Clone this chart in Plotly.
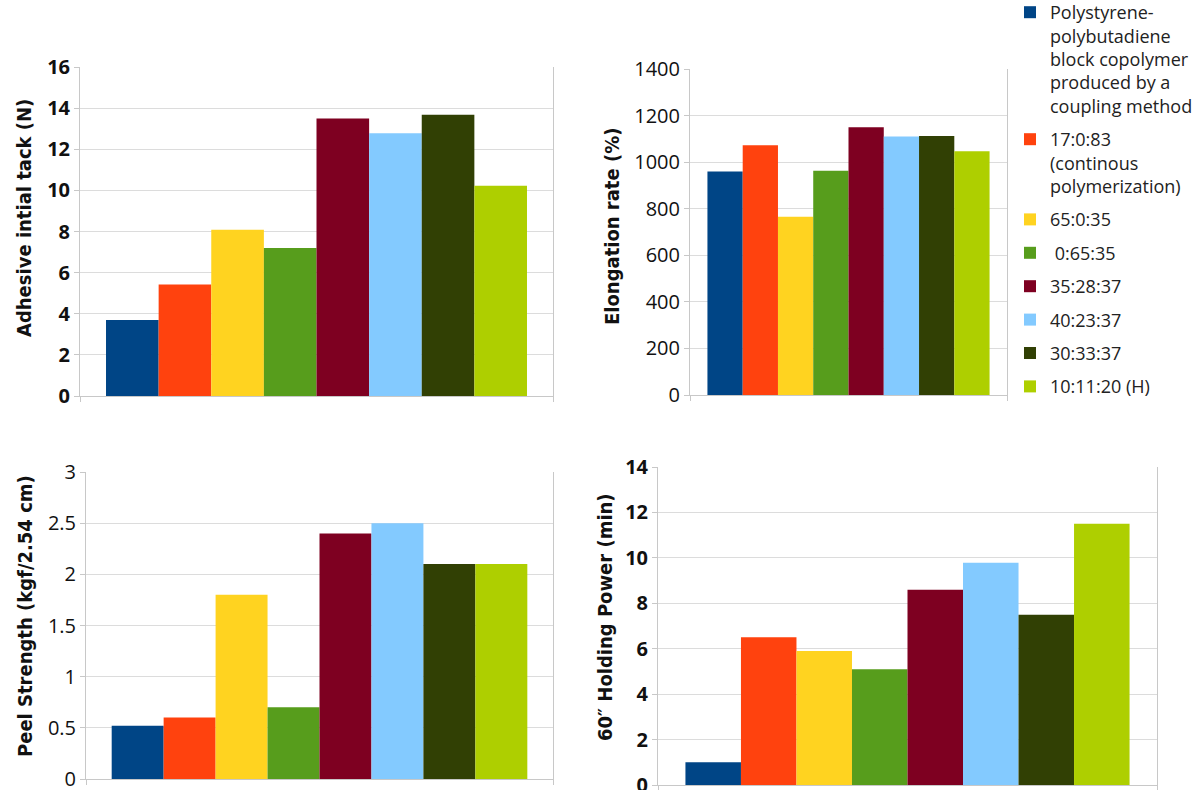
import plotly.graph_objects as go

W, H = 1195, 790

# ---------------- data ----------------
series_names = [
    "Polystyrene-<br>polybutadiene<br>block copolymer<br>produced by a<br>coupling method",
    "17:0:83<br>(continous<br>polymerization)",
    "65:0:35",
    " 0:65:35",
    "35:28:37",
    "40:23:37",
    "30:33:37",
    "10:11:20 (H)",
]
colors = ["#004586", "#ff420e", "#ffd320", "#579d1c",
          "#7e0021", "#83caff", "#314004", "#aecf00"]
category = ["sample"]

tack = [3.7, 5.42, 8.08, 7.2, 13.5, 12.78, 13.68, 10.22]
elongation = [960, 1073, 766, 963, 1150, 1110, 1112, 1047]
peel = [0.52, 0.6, 1.8, 0.7, 2.4, 2.5, 2.1, 2.1]
holding = [1.0, 6.5, 5.9, 5.1, 8.6, 9.78, 7.5, 11.5]

y_titles = ["Adhesive intial tack (N)", "Elongation rate (%)",
            "Peel Strength (kgf/2.54 cm)", "60\u2033 Holding Power (min)"]
y_ranges = [[0, 16], [0, 1400], [0, 3], [0, 14]]
y_dticks = [2, 200, 0.5, 2]

# ---------------- layout helpers ----------------
def fx(px):
    return px / W

def fy(py):
    return (H - py) / H

# pixel boxes: left, right, top, bottom
boxes = [(80, 553, 67, 396), (690, 1007, 69, 395),
         (86, 553, 472, 779), (658, 1157, 467, 785)]
tick_bold = [True, False, False, True]
title_pos = [(24, 218), (612, 227), (25, 616), (605, 617)]

panels = [tack, elongation, peel, holding]

fig = go.Figure()
for p, vals in enumerate(panels):
    xa = "x" if p == 0 else f"x{p+1}"
    ya = "y" if p == 0 else f"y{p+1}"
    for i, name in enumerate(series_names):
        fig.add_trace(go.Bar(
            x=category, y=[vals[i]], name=name,
            marker=dict(color=colors[i], line=dict(width=0)),
            xaxis=xa, yaxis=ya, legendgroup=f"g{i}",
            showlegend=(p == 0), hoverinfo="y",
        ))

layout = dict(
    width=W, height=H,
    margin=dict(l=0, r=0, t=0, b=0, autoexpand=False),
    paper_bgcolor="white", plot_bgcolor="white",
    barmode="group", bargap=0.11, bargroupgap=0,
    font=dict(family="Open Sans", color="#111111"),
    legend=dict(
        x=fx(1010), y=fy(-6), xanchor="left", yanchor="top",
        font=dict(family="Open Sans", size=18, color="#222222"),
        traceorder="grouped", tracegroupgap=7, valign="top",
        bgcolor="rgba(0,0,0,0)", borderwidth=0, maxheight=800,
    ),
    annotations=[],
)

for p in range(4):
    l, r, t, b = boxes[p]
    xk = "xaxis" if p == 0 else f"xaxis{p+1}"
    yk = "yaxis" if p == 0 else f"yaxis{p+1}"
    ya = "y" if p == 0 else f"y{p+1}"
    xa = "x" if p == 0 else f"x{p+1}"
    layout[xk] = dict(
        domain=[fx(l), fx(r)], anchor=ya, type="category",
        showticklabels=False, showgrid=False, zeroline=False,
        showline=True, linecolor="#c8c8c8", linewidth=1,
        ticks="outside", tickson="boundaries", ticklen=5, tickcolor="#c8c8c8",
        fixedrange=True,
    )
    layout[yk] = dict(
        domain=[fy(b), fy(t)], anchor=xa,
        range=y_ranges[p], dtick=y_dticks[p], tick0=0,
        showgrid=True, gridcolor="#dcdcdc", gridwidth=1,
        zeroline=False, showline=True, linecolor="#c8c8c8", linewidth=1,
        mirror=True, ticks="outside", ticklen=5, tickcolor="#c8c8c8",
        ticklabeloverflow="allow",
        tickfont=dict(family="Open Sans", size=20, color="#111111",
                      weight="bold" if tick_bold[p] else "normal"),
        fixedrange=True,
    )
    tx, ty = title_pos[p]
    layout["annotations"].append(dict(
        text=f"<b>{y_titles[p]}</b>", textangle=-90,
        x=fx(tx), y=fy(ty), xref="paper", yref="paper",
        xanchor="center", yanchor="middle", showarrow=False,
        font=dict(family="Liberation Sans Narrow, DejaVu Sans Condensed, Open Sans",
                  size=20, color="#111111"),
    ))

fig.update_layout(**layout)
fig.write_html("out.html")
